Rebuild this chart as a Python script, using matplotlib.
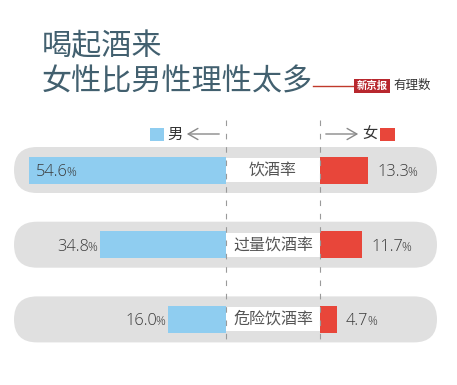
import matplotlib
matplotlib.use('Agg')
import matplotlib.pyplot as plt
from matplotlib.patches import FancyBboxPatch, Rectangle
from matplotlib.lines import Line2D

plt.rcParams['font.family'] = ['Noto Sans CJK SC', 'DejaVu Sans']

# data
metrics = ['饮酒率', '过量饮酒率', '危险饮酒率']
male = [54.6, 34.8, 16.0]
female = [13.3, 11.7, 4.7]
title_lines = ['喝起酒来', '女性比男性理性太多']

BLUE = '#8fcdf0'
RED = '#e8463a'
PILL = '#e0e0e0'
TITLE_C = '#42606f'
TXT = '#3a3a3a'

W_PX, H_PX = 457, 385
S = 3.61            # px per percent
ROW_PX = 74.7       # px between rows
X0_PX = 226         # left dashed line
Y0_PX = 170         # first row centre
W = 94 / S          # label box width (percent units)

fig = plt.figure(figsize=(W_PX / 100, H_PX / 100), dpi=100, facecolor='white')

# overlay axes in pixel coords for title / legend
ov = fig.add_axes([0, 0, 1, 1], zorder=5)
ov.set_xlim(0, W_PX); ov.set_ylim(H_PX, 0); ov.axis('off')

ax = fig.add_axes([0, 0, 1, 1], zorder=1)
ax.set_xlim(-X0_PX / S, (W_PX - X0_PX) / S)
ax.set_ylim((H_PX - Y0_PX) / ROW_PX, -Y0_PX / ROW_PX)
ax.axis('off')

rows = list(range(len(metrics)))
px2x = lambda p: (p - X0_PX) / S

# grey pills
pill_l, pill_r = px2x(14), px2x(437)
pill_h = 46 / ROW_PX
for r in rows:
    ax.add_patch(FancyBboxPatch((pill_l, r - pill_h / 2), pill_r - pill_l, pill_h,
                                boxstyle=f'round,pad=0,rounding_size={23 / S}',
                                mutation_aspect=S / ROW_PX, fc=PILL, ec='none', zorder=1))

bar_h = 27 / ROW_PX
ax.barh(rows, [-m for m in male], left=0, height=bar_h, color=BLUE, zorder=2)
ax.barh(rows, female, left=W, height=bar_h, color=RED, zorder=2)
ax.barh(rows, [W] * len(rows), left=0, height=24 / ROW_PX, color='white', zorder=2)

# dashed guides
for xv in (0, W):
    ax.plot([xv, xv], [(120 - Y0_PX) / ROW_PX, (345 - Y0_PX) / ROW_PX], color='#9a9a9a',
            lw=0.8, ls=(0, (5, 7)), zorder=4)

num_kw = dict(family=['Open Sans', 'DejaVu Sans'], weight='light', color=TXT, zorder=5)
base_off = 6 / ROW_PX   # baseline below row centre
for r, lab, m, f in zip(rows, metrics, male, female):
    ax.text(W / 2, r, lab, ha='center', va='center', fontsize=11.5, color='#555555', zorder=5)
    yb = r + base_off
    # male value
    if m > 45:
        t = ax.text(-m + 7 / S, yb, f'{m:.1f}', ha='left', va='baseline', fontsize=11.8, **num_kw)
        ax.annotate('%', xy=(1, yb), xycoords=(t, 'data'), xytext=(-1, 0), textcoords='offset points',
                    ha='left', va='baseline', fontsize=8.8, **num_kw)
    else:
        p = ax.text(-m - 3 / S, yb, '%', ha='right', va='baseline', fontsize=8.8, **num_kw)
        ax.annotate(f'{m:.1f}', xy=(0, yb), xycoords=(p, 'data'), xytext=(1, 0), textcoords='offset points',
                    ha='right', va='baseline', fontsize=11.8, **num_kw)
    # female value
    t = ax.text(W + f + 9 / S, yb, f'{f:.1f}', ha='left', va='baseline', fontsize=11.8, **num_kw)
    ax.annotate('%', xy=(1, yb), xycoords=(t, 'data'), xytext=(-1, 0), textcoords='offset points',
                ha='left', va='baseline', fontsize=8.8, **num_kw)

# title
ov.text(42, 46, title_lines[0], ha='left', va='center', fontsize=21.7, color=TITLE_C, weight='light')
ov.text(42, 82, title_lines[1], ha='left', va='center', fontsize=21.7, color=TITLE_C, weight='light')

# logo
ov.add_line(Line2D([313, 355], [86, 86], color='#c0392b', lw=1))
ov.text(372, 86, '新京报', ha='center', va='center', fontsize=7.5, color='white', weight='bold',
        bbox=dict(boxstyle='square,pad=0.2', fc='#b8282e', ec='none'))
ov.text(393, 85, '有理数', ha='left', va='center', fontsize=9, color='#333333', style='italic')

# legend
ov.add_patch(Rectangle((150, 128), 14, 13, fc=BLUE, ec='none'))
ov.text(167, 134, '男', ha='left', va='center', fontsize=11, color='#333333')
ov.annotate('', xy=(184, 134), xytext=(222, 134),
            arrowprops=dict(arrowstyle='->,head_length=0.7,head_width=0.4', color='#8a8a8a', lw=1))
ov.annotate('', xy=(361, 134), xytext=(323, 134),
            arrowprops=dict(arrowstyle='->,head_length=0.7,head_width=0.4', color='#8a8a8a', lw=1))
ov.text(362, 134, '女', ha='left', va='center', fontsize=11, color='#333333')
ov.add_patch(Rectangle((380, 128), 15, 13, fc=RED, ec='none'))

fig.savefig('out.png', dpi=100, facecolor='white')
